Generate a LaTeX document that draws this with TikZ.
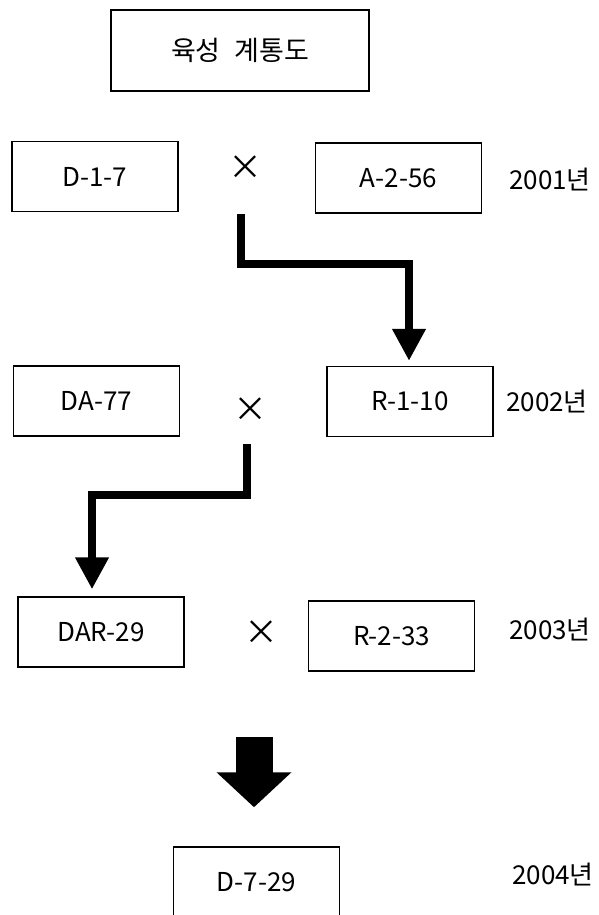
\documentclass[tikz,border=0pt]{standalone}
\usepackage{fontspec}
\setmainfont{Noto Sans CJK KR}
\usetikzlibrary{arrows.meta}

\begin{document}
\begin{tikzpicture}[x=1pt,y=-1pt]
\tikzstyle{every node}=[font=\fontsize{26}{30}\selectfont]
\tikzstyle{linebox}=[rectangle, draw, line width=1.5pt, minimum width=166pt, minimum height=70pt, inner sep=0pt]
\tikzstyle{headbox}=[rectangle, draw, line width=2pt, minimum width=258pt, minimum height=81pt, font=\fontsize{27}{30}\selectfont]
\tikzstyle{year}=[anchor=west, inner sep=0pt]
\tikzstyle{cross}=[inner sep=0pt, font=\fontsize{34}{36}\selectfont]
\tikzstyle{steparrow}=[line width=7.5pt, line join=miter, -{Triangle[width=32pt,length=32pt]}]
\tikzstyle{bigarrow}=[line width=37pt, -{Triangle[width=73pt,length=35pt]}]

\useasboundingbox (0,0) rectangle (599,915);

\node[headbox] (title) at (240,50.5) {육성\enspace 계통도};

\node[linebox] (d17) at (95,176.5) {D-1-7};
\node[cross] (x1) at (245,168) {×};
\node[linebox] (a256) at (398.5,178) {A-2-56};
\node[year] (y1) at (509,180) {2001년};

\node[linebox] (da77) at (96.5,401) {DA-77};
\node[cross] (x2) at (250,410) {×};
\node[linebox] (r110) at (410,401.5) {R-1-10};
\node[year] (y2) at (506,402) {2002년};

\node[linebox] (dar29) at (101,632) {DAR-29};
\node[cross] (x3) at (261,633) {×};
\node[linebox] (r233) at (391.5,636) {R-2-33};
\node[year] (y3) at (509,630) {2003년};

\node[linebox] (d729) at (256.5,882) {D-7-29};
\node[year] (y4) at (512,875) {2004년};

\coordinate (c1) at (241,214);
\coordinate (c2) at (247,444);
\coordinate (c3) at (254,737);

\draw[steparrow, shorten >=5pt] (c1) -- ++(0,50) -| ([xshift=-1pt]r110.north);
\draw[steparrow, shorten >=7pt] (c2) -- ++(0,51) -| ([xshift=-9pt]dar29.north);
\draw[bigarrow, shorten >=39pt] (c3) -- (c3 |- d729.north);
\end{tikzpicture}
\end{document}
